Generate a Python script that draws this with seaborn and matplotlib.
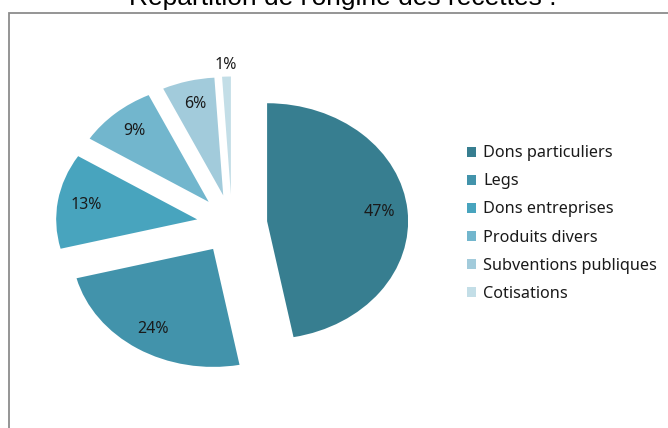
import numpy as np
import pandas as pd
import matplotlib
matplotlib.use('Agg')
import matplotlib.pyplot as plt
import seaborn as sns
from matplotlib.patches import Rectangle

sns.set_theme(style='white')
plt.rcParams['font.family'] = ['Noto Sans', 'DejaVu Sans']

categories = ['Dons particuliers', 'Legs', 'Dons entreprises', 'Produits divers',
              'Subventions publiques', 'Cotisations']
shares = [47, 24, 13, 9, 6, 1]
colors = ['#377E90', '#4293AB', '#48A4BE', '#72B6CD', '#A2CBDB', '#C3DEE7']
title = "Répartition de l'origine des recettes :"

df = pd.DataFrame({'origine': categories, 'part': shares})

fig = plt.figure(figsize=(6.68, 4.28), dpi=100)
fig.patch.set_facecolor('white')

# chart border (runs off the right and bottom edge like the screenshot)
fig.patches.append(Rectangle((8.5 / 668, -0.2), 1.2, 1.2 - 12.5 / 428,
                             transform=fig.transFigure, fill=False,
                             edgecolor='#8c8c8c', linewidth=1.3))

# title is cropped at the top in the original screenshot
fig.text(343 / 668, (428 - 5.5) / 428, title, ha='center', va='baseline',
         fontsize=19, family=['Liberation Sans'], color='black')

# stretched pie: axes not square so the pie is an ellipse, as in the original
ax = fig.add_axes([(232 - 211.5) / 668, (204 - 177) / 428, 423 / 668, 354 / 428])
wedges, texts, autotexts = ax.pie(df['part'], colors=colors, startangle=90,
                                  counterclock=False, explode=[0.25] * len(df),
                                  autopct='%1.0f%%', pctdistance=0.8,
                                  wedgeprops=dict(linewidth=0),
                                  textprops=dict(fontsize=11.5, color='#1a1a1a'))
ax.set_aspect('auto')
ax.set_xlim(-1.5, 1.5)
ax.set_ylim(-1.5, 1.5)
ax.axis('off')

# small slice: label sits outside the wedge
w, t = wedges[-1], autotexts[-1]
cx, cy = w.center
px, py = t.get_position()
t.set_position((cx + (px - cx) * 1.1 / 0.8, cy + (py - cy) * 1.1 / 0.8))

leg = fig.legend(wedges, df['origine'], loc='center left',
                 bbox_to_anchor=(467 / 668, (428 - 223.5) / 428),
                 frameon=False, fontsize=11.7, handlelength=0.55, handleheight=0.55,
                 handletextpad=0.45, labelspacing=0.74, borderaxespad=0, borderpad=0)
for txt in leg.get_texts():
    txt.set_color('#1a1a1a')

fig.savefig('out.png', dpi=100, facecolor='white')
